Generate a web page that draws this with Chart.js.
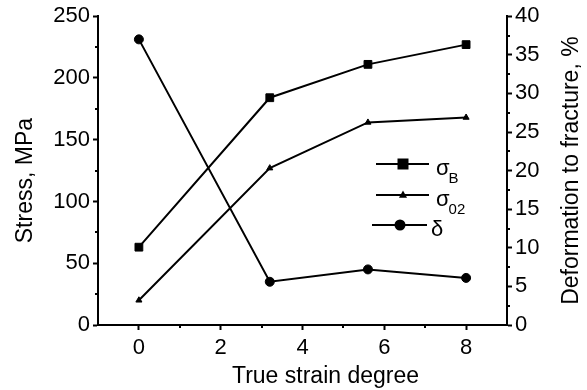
<!DOCTYPE html>
<html>
<head>
<meta charset="utf-8">
<script src="https://cdn.jsdelivr.net/npm/chart.js@4"></script>
<style>
  html, body { margin: 0; padding: 0; background: #fff; }
  #box { width: 587px; height: 390px; }
</style>
</head>
<body>
<div id="box"><canvas id="chartStress"></canvas></div>
<script>
// values
let strain = [0, 3.2, 5.6, 8];
let sigmaB = [63, 184, 211, 227];
let sigma02 = [20, 127, 164, 168];
let delta = [37, 5.6, 7.2, 6.1];

let xTicks = [0, 2, 4, 6, 8];
let xMinor = [1, 3, 5, 7];
let stressMinor = [25, 75, 125, 175, 225];
let deformMinor = [2.5, 7.5, 12.5, 17.5, 22.5, 27.5, 32.5, 37.5];

let legendMain = ['σ', 'σ', 'δ'];
let legendSub = ['B', '02', ''];

const FONT = "'Liberation Sans', Arial, sans-serif";
Chart.defaults.font.family = FONT;
Chart.defaults.color = '#000';

function toPoints(xs, ys) {
    return xs.map(function(x, i) {
        return { x: x, y: ys[i] };
    });
}

function drawMarker(ctx, style, x, y, r) {
    ctx.beginPath();
    if (style === 'rect') {
        ctx.rect(x - r, y - r, 2 * r, 2 * r);
    } else if (style === 'triangle') {
        ctx.moveTo(x, y - r);
        ctx.lineTo(x + r * 0.9, y + r * 0.6);
        ctx.lineTo(x - r * 0.9, y + r * 0.6);
        ctx.closePath();
    } else {
        ctx.arc(x, y, r, 0, Math.PI * 2);
    }
    ctx.fill();
}

// minor ticks, axis titles and the legend with subscripts
const extras = {
    id: 'extras',
    afterDraw: function(chart) {
        const ctx = chart.ctx;
        const a = chart.chartArea;
        const sx = chart.scales.x, sl = chart.scales.yL, sr = chart.scales.yR;
        ctx.save();
        ctx.strokeStyle = '#000';
        ctx.lineWidth = 2;
        ctx.beginPath();
        xMinor.forEach(function(v) {
            const p = Math.round(sx.getPixelForValue(v));
            ctx.moveTo(p, a.bottom); ctx.lineTo(p, a.bottom + 3);
        });
        stressMinor.forEach(function(v) {
            const p = Math.round(sl.getPixelForValue(v));
            ctx.moveTo(a.left, p); ctx.lineTo(a.left - 3, p);
        });
        deformMinor.forEach(function(v) {
            const p = Math.round(sr.getPixelForValue(v));
            ctx.moveTo(a.right, p); ctx.lineTo(a.right + 3, p);
        });
        ctx.stroke();

        // axis titles
        ctx.fillStyle = '#000';
        ctx.font = '23px ' + FONT;
        ctx.textAlign = 'center';
        ctx.textBaseline = 'alphabetic';
        ctx.fillText('True strain degree', (a.left + a.right) / 2 + 23, 383);

        ctx.save();
        ctx.translate(32, (a.top + a.bottom) / 2 + 10);
        ctx.rotate(-Math.PI / 2);
        ctx.fillText('Stress, MPa', 0, 0);
        ctx.restore();

        ctx.save();
        ctx.translate(578, (a.top + a.bottom) / 2);
        ctx.rotate(-Math.PI / 2);
        ctx.fillText('Deformation to fracture, %', 0, 0);
        ctx.restore();

        // legend
        const rows = [
            { y: 164, x0: 376, x1: 429, mx: 403, tx: 436, style: 'rect', r: 5.5 },
            { y: 195, x0: 376, x1: 429, mx: 403, tx: 436, style: 'triangle', r: 4.5 },
            { y: 225, x0: 372, x1: 427, mx: 400, tx: 431, style: 'circle', r: 5.5 }
        ];
        ctx.textAlign = 'left';
        rows.forEach(function(row, i) {
            ctx.beginPath();
            ctx.moveTo(row.x0, row.y); ctx.lineTo(row.x1, row.y);
            ctx.stroke();
            drawMarker(ctx, row.style, row.mx, row.y, row.r);
            ctx.font = '22px ' + FONT;
            ctx.fillText(legendMain[i], row.tx, row.y + 11);
            const w = ctx.measureText(legendMain[i]).width;
            if (legendSub[i]) {
                ctx.font = '15px ' + FONT;
                ctx.fillText(legendSub[i], row.tx + w - 1, row.y + 19);
            }
        });
        ctx.restore();
    }
};

function lineSet(label, data, axis, style, radius) {
    return {
        label: label,
        data: data,
        yAxisID: axis,
        borderColor: '#000',
        backgroundColor: '#000',
        borderWidth: 2,
        pointStyle: style,
        pointRadius: radius,
        pointHoverRadius: radius,
        pointBorderWidth: 1,
        showLine: true,
        tension: 0
    };
}

let ctx1 = document.getElementById('chartStress').getContext('2d');
let myChart1 = new Chart(ctx1, {
    type: 'scatter',
    data: {
        datasets: [
            lineSet('σB', toPoints(strain, sigmaB), 'yL', 'rect', 5.5),
            lineSet('σ02', toPoints(strain, sigma02), 'yL', 'triangle', 3.5),
            lineSet('δ', toPoints(strain, delta), 'yR', 'circle', 4.5)
        ]
    },
    options: {
        responsive: true,
        maintainAspectRatio: false,
        animation: false,
        layout: { padding: { top: 16, left: 0, right: 0, bottom: 0 } },
        plugins: {
            legend: { display: false },
            tooltip: { enabled: false }
        },
        scales: {
            x: {
                type: 'linear',
                min: -1,
                max: 9,
                afterBuildTicks: function(scale) {
                    scale.ticks = xTicks.map(function(v) { return { value: v }; });
                },
                afterFit: function(scale) { scale.height = 65; },
                border: { color: '#000', width: 2 },
                grid: { drawOnChartArea: false, color: '#000', tickLength: 5, tickWidth: 2 },
                ticks: { font: { size: 22 }, padding: 5, maxRotation: 0 }
            },
            yL: {
                position: 'left',
                min: 0,
                max: 250,
                afterFit: function(scale) { scale.width = 98; },
                border: { color: '#000', width: 2 },
                grid: { drawOnChartArea: false, color: '#000', tickLength: 5, tickWidth: 2 },
                ticks: { stepSize: 50, font: { size: 22 }, padding: 3 }
            },
            yR: {
                position: 'right',
                min: 0,
                max: 40,
                afterFit: function(scale) { scale.width = 80; },
                border: { color: '#000', width: 2 },
                grid: { drawOnChartArea: false, color: '#000', tickLength: 5, tickWidth: 2 },
                ticks: { stepSize: 5, font: { size: 22 }, padding: 3 }
            }
        }
    },
    plugins: [extras]
});
</script>
</body>
</html>
